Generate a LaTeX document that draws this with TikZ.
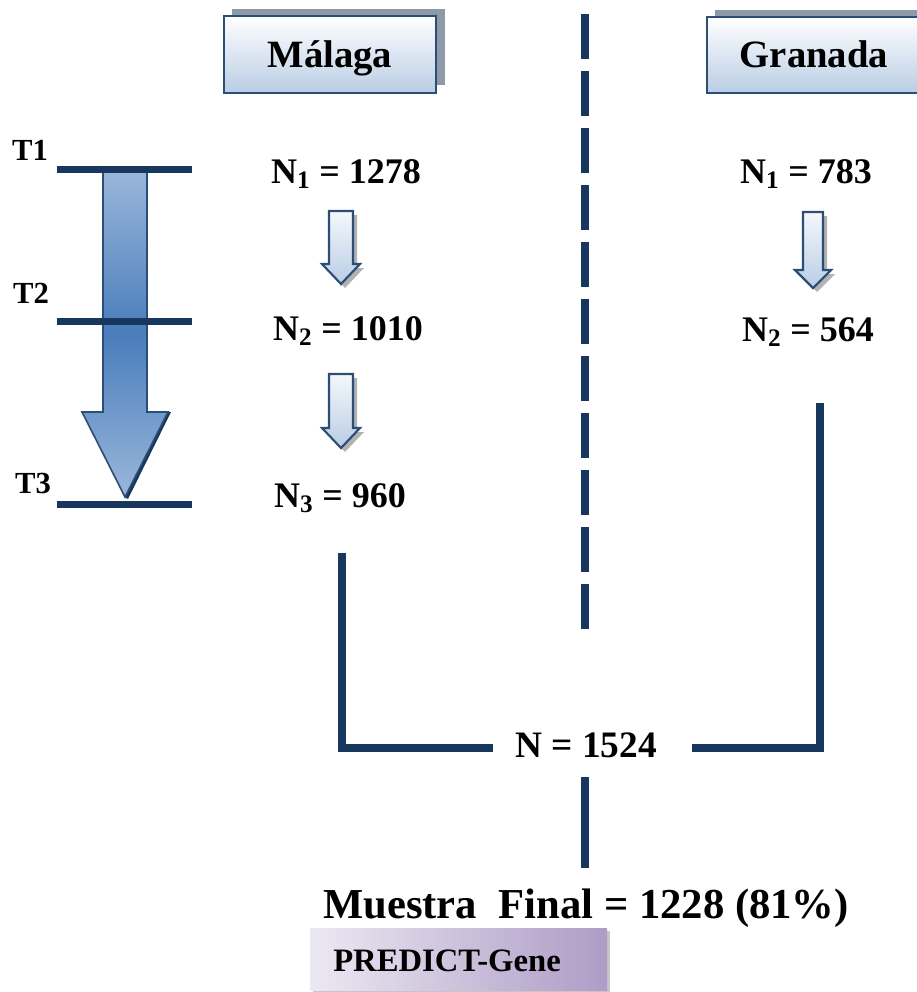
\documentclass[tikz,border=0pt]{standalone}
\usepackage{fontspec}
\setmainfont{Liberation Serif}
\definecolor{navy}{HTML}{17375E}
\definecolor{boxedge}{HTML}{2C4D75}
\definecolor{boxbot}{HTML}{B9CDE5}
\definecolor{shadowgrey}{HTML}{8E99AA}
\definecolor{arrlight}{HTML}{9AB7DA}
\definecolor{arrdark}{HTML}{4A7DBB}
\definecolor{purpleL}{HTML}{ECE8F2}
\definecolor{purpleR}{HTML}{AE9CC6}
\newcommand\fsz[1]{\fontsize{#1}{#1}\selectfont\bfseries}
\newcommand\smallarr[7]{% name, cx, top, shaftbottom, tip, halfshaft, halfhead
  \fill[gray!60] ([shift={(4,4)}]#2-#6,#3) -- (#2+#6+4,#3+4) -- (#2+#6+4,#4+4) -- (#2+#7+4,#4+4) -- (#2+4,#5+4) -- (#2-#7+4,#4+4) -- (#2-#6+4,#4+4) -- cycle;
  \path[smallarrow] (#2-#6,#3) -- (#2+#6,#3) -- (#2+#6,#4) -- (#2+#7,#4) -- (#2,#5) -- (#2-#7,#4) -- (#2-#6,#4) -- cycle;
  \coordinate (#1) at (#2,#5);}
\begin{document}
\begin{tikzpicture}[x=0.75pt,y=-0.75pt,
  navyline/.style={draw=navy,line width=6pt},
  tline/.style={draw=navy,line width=5.25pt},
  titlebox/.style={draw=boxedge,line width=2pt,top color=white,bottom color=boxbot},
  smallarrow/.style={draw=boxedge,line width=1.6pt,top color=white!85!boxbot,bottom color=boxbot},
  tlabel/.style={anchor=base,inner sep=0pt,font=\fsz{23pt}},
  title/.style={anchor=base,inner sep=0pt,font=\fsz{29pt}},
  ntext/.style={anchor=base,inner sep=0pt,font=\fsz{27pt}},
]
\useasboundingbox (0,0) rectangle (917,992);

% title boxes
\fill[shadowgrey] (232,9) rectangle (445,85);
\path[titlebox] (224,16) rectangle (436,93);
\node[title] (malaga) at (330,67) {Málaga};
\fill[shadowgrey] (715,10) rectangle (925,86);
\path[titlebox] (707,17) rectangle (930,93);
\node[title] (granada) at (814,67) {Granada};

% central dashed divider
\coordinate (dtop) at (585,14);
\coordinate (dbot) at (585,632);
\draw[navyline,dash pattern=on 33.75pt off 9pt] (dtop) -- (dbot);

% big time arrow
\fill[navy] (150,412) -- (171,412) -- (128,499) -- (125,497) -- cycle;
\shade[top color=arrlight,bottom color=arrlight,middle color=arrdark,draw=boxedge,line width=1.2pt]
  (103,169) -- (147,169) -- (147,412) -- (168,412) -- (125,497) -- (82,412) -- (103,412) -- cycle;

% time lines
\coordinate (t1a) at (57,169); \coordinate (t1b) at (192,169);
\coordinate (t2a) at (57,321); \coordinate (t2b) at (192,321);
\coordinate (t3a) at (57,504); \coordinate (t3b) at (192,504);
\draw[tline] (t1a) -- (t1b);
\draw[tline] (t2a) -- (t2b);
\draw[tline] (t3a) -- (t3b);
\node[tlabel] (T1) at (30,160) {T1};
\node[tlabel] (T2) at (31,303) {T2};
\node[tlabel] (T3) at (33,493) {T3};

% Malaga counts
\node[ntext] (m1) at (346,183) {N\textsubscript{1} = 1278};
\node[ntext] (m2) at (348,340) {N\textsubscript{2} = 1010};
\node[ntext] (m3) at (340,507) {N\textsubscript{3} = 960};
\smallarr{a1}{341}{211}{264}{284}{12}{19}
\smallarr{a2}{341}{374}{428}{448}{12}{19}

% Granada counts
\node[ntext] (g1) at (806,183) {N\textsubscript{1} = 783};
\node[ntext] (g2) at (808,341) {N\textsubscript{2} = 564};
\smallarr{a3}{813}{212}{270}{288}{10}{18}

% merge brackets
\node[anchor=base,inner sep=0pt,font=\fsz{28pt}] (ntot) at (586,757) {N = 1524};
\coordinate (ltop) at (342,553);
\coordinate (lcorner) at (342,748);
\coordinate (lend) at (493,748);
\coordinate (rtop) at (820,403);
\coordinate (rcorner) at (820,748);
\coordinate (rend) at (692,748);
\draw[navyline,line join=miter] (ltop) -- (lcorner) -- (lend);
\draw[navyline,line join=miter] (rtop) -- (rcorner) -- (rend);
\coordinate (vtop) at (585,777);
\coordinate (vbot) at (585,868);
\draw[navyline] (vtop) -- (vbot);

% final sample
\node[anchor=base,inner sep=0pt,font=\fsz{32pt}] (final) at (586,918) {Muestra\ \ Final = 1228 (81\%)};
\fill[gray!45] (313,931) rectangle (610,993);
\shade[left color=purpleL,right color=purpleR] (310,928) rectangle (607,990);
\node[anchor=base,inner sep=0pt,font=\fsz{24.5pt}] (pg) at (447,971) {PREDICT-Gene};
\end{tikzpicture}
\end{document}
